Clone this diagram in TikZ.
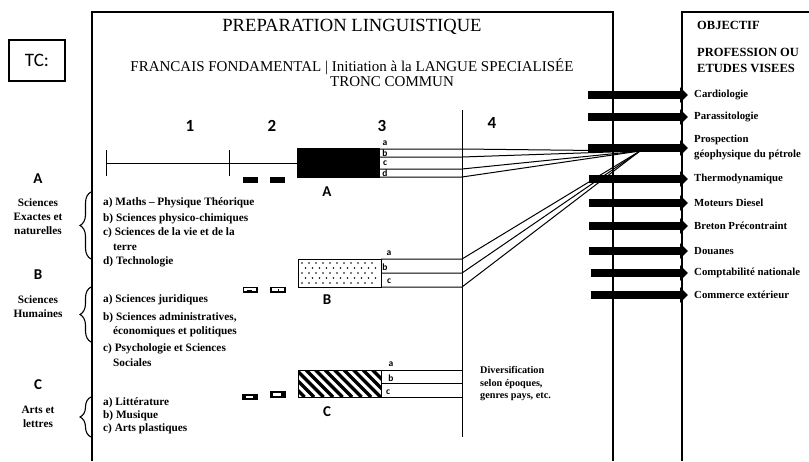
\documentclass[tikz,border=0pt]{standalone}
\usepackage{fontspec}
\setmainfont{Liberation Serif}
\newfontfamily\calib{Carlito}
\usetikzlibrary{arrows.meta,decorations.pathreplacing}
\begin{document}
\begin{tikzpicture}[x=1pt,y=-1pt,
  frame/.style={line width=1.3pt},
  conn/.style={line width=1pt},
  lst/.style={anchor=west, inner sep=0pt, font=\fontsize{11.3}{12}\selectfont\bfseries},
  obj/.style={anchor=west, inner sep=0pt, font=\fontsize{10.8}{12}\selectfont\bfseries},
  objhead/.style={anchor=west, inner sep=0pt, font=\fontsize{12.5}{14}\selectfont\bfseries},
  sansnum/.style={inner sep=0pt, font=\calib\fontsize{17}{18}\selectfont\bfseries},
  sanslab/.style={inner sep=0pt, font=\calib\fontsize{15}{18}\selectfont\bfseries},
  tinylab/.style={inner sep=0pt, font=\calib\fontsize{9.5}{10}\selectfont\bfseries},
  cat/.style={inner sep=0pt, align=center, font=\fontsize{11.3}{14}\selectfont\bfseries},
  bigarrow/.style={line width=8.5pt, -{Triangle[length=8pt,width=15pt]}},
  bracestyle/.style={decorate, decoration={brace, amplitude=11pt}, line width=1.1pt}
]
\useasboundingbox (0,0) rectangle (809,461);
\fill[white] (0,0) rectangle (809,461);

% TC box
\node[draw, line width=1.3pt, minimum width=56pt, minimum height=41pt, inner sep=0pt,
      font=\calib\fontsize{19}{20}\selectfont] (tc) at (37,60.5) {TC:};

% frames
\draw[frame] (92,461) -- (92,12) -- (613,12) -- (613,461);
\draw[frame] (682,461) -- (682,12) -- (809,12);

% titles
\node[inner sep=0pt, font=\fontsize{18.6}{20}\selectfont] (title) at (352,27) {PREPARATION LINGUISTIQUE};
\node[inner sep=0pt, font=\fontsize{15}{16}\selectfont] (sub) at (352,67) {FRANCAIS FONDAMENTAL | Initiation à la LANGUE SPECIALISÉE};
\node[inner sep=0pt, font=\fontsize{15}{16}\selectfont] (tronc) at (392,82) {TRONC COMMUN};

% column numbers
\node[sansnum] (n1) at (190,126) {1};
\node[sansnum] (n2) at (272,126) {2};
\node[sansnum] (n3) at (382,126) {3};
\node[sansnum] (n4) at (492,123) {4};

% timeline
\draw[conn] (106,163) -- (297,163);
\draw[conn] (106,150) -- (106,176);
\draw[conn] (229,150) -- (229,176);

% column 4 separator
\draw[conn] (462,110) -- (462,437);

% convergence point
\coordinate (P) at (640,151);

% block A
\fill (297,148) rectangle (380,178);
\foreach \yy/\nm in {149/a,157/b,169/c,177/d}{
  \coordinate (A\nm) at (380,\yy);
  \coordinate (A\nm4) at (462,\yy);
  \draw[conn] (A\nm) -- (A\nm4) -- (P);
}
\node[tinylab] (la) at (385,143.5) {a};
\node[tinylab] (lb) at (385,153.5) {b};
\node[tinylab] (lc) at (385,163) {c};
\node[tinylab] (ld) at (385,173) {d};
\node[sanslab] (labA) at (327,192) {A};
\fill (243,177) rectangle (258,183);
\fill (270,177) rectangle (285,183);

% block B
\draw[conn] (298,259) rectangle (381,287);
\foreach \yy in {263,273,283}{\foreach \xx in {302,309,...,378}{\fill (\xx,\yy) circle (0.8pt);}}
\foreach \yy in {268,278}{\foreach \xx in {305.5,312.5,...,376}{\fill (\xx,\yy) circle (0.8pt);}}
\foreach \yy/\nm in {259/a,273/b,287/c}{
  \coordinate (B\nm) at (381,\yy);
  \coordinate (B\nm4) at (462,\yy);
  \draw[conn] (B\nm) -- (B\nm4) -- (P);
}
\node[tinylab] (lba) at (389,253.5) {a};
\node[tinylab] (lbb) at (385,267.5) {b};
\node[tinylab] (lbc) at (389,281.5) {c};
\node[sanslab] (labB) at (327,300) {B};
\draw[line width=1.4pt] (243.5,287.5) rectangle (257,292);
\draw[line width=0.7pt] (247,290.5) -- (252,290.5);
\draw[line width=1.4pt] (271,287.5) rectangle (285,292);
\draw[line width=0.7pt] (278,289) -- (278,291);

% block C
\begin{scope}
  \clip (298,370) rectangle (381,397);
  \foreach \xx in {268,277.5,...,385}{\draw[line width=3.2pt] (\xx,370) -- (\xx+27,397);}
\end{scope}
\draw[conn] (298,370) rectangle (381,397);
\foreach \yy/\nm in {370/a,383/b,397/c}{
  \coordinate (C\nm) at (381,\yy);
  \coordinate (C\nm4) at (462,\yy);
  \draw[conn] (C\nm) -- (C\nm4);
}
\node[tinylab] (lca) at (391,364.5) {a};
\node[tinylab] (lcb) at (391,378.5) {b};
\node[tinylab] (lcc) at (388,392) {c};
\node[sanslab] (labC) at (327,412) {C};
\fill (242,394) rectangle (258,400);
\fill[white] (246,396) rectangle (253,398);
\fill (270,391) rectangle (286,398);
\fill[white] (273,393) rectangle (281,395.5);

% diversification
\node[anchor=west, inner sep=0pt, align=left, font=\fontsize{10.2}{12.5}\selectfont\bfseries] (div) at (480,384)
  {Diversification\\selon époques,\\genres pays, etc.};

% left categories
\node[sanslab] (cA) at (38,179) {A};
\node[cat] (catA) at (38,217) {Sciences\\Exactes et\\naturelles};
\node[sanslab] (cB) at (38,275) {B};
\node[cat] (catB) at (38,307) {Sciences\\Humaines};
\node[sanslab] (cC) at (38,385) {C};
\node[cat] (catC) at (38,416.5) {Arts et\\lettres};

\draw[bracestyle] (91,259) -- (91,192);
\draw[bracestyle] (91,342) -- (91,287);
\draw[bracestyle] (91,437) -- (91,397);

% lists
\node[lst] (a1) at (103,203) {a) Maths -- Physique Théorique};
\node[lst] (a2) at (103,219) {b) Sciences physico-chimiques};
\node[lst] (a3) at (103,233) {c) Sciences de la vie et de la};
\node[lst] (a3b) at (113,247) {terre};
\node[lst] (a4) at (103,262) {d) Technologie};

\node[lst] (b1) at (103,300) {a) Sciences juridiques};
\node[lst] (b2) at (103,318) {b) Sciences administratives,};
\node[lst] (b2b) at (113,332) {économiques et politiques};
\node[lst] (b3) at (103,349) {c) Psychologie et Sciences};
\node[lst] (b3b) at (113,363) {Sociales};

\node[lst] (c1) at (103,403) {a) Littérature};
\node[lst] (c2) at (103,416) {b) Musique};
\node[lst] (c3) at (103,429) {c) Arts plastiques};

% objective column
\node[objhead] (ob) at (697,25) {OBJECTIF};
\node[objhead] (ob2) at (697,52) {PROFESSION OU};
\node[objhead] (ob3) at (697,68) {ETUDES VISEES};

\foreach \yy/\sx/\nm/\txt in {95/588/o1/Cardiologie, 117/588/o2/Parassitologie, 179/589/o4/Thermodynamique, 203/589/o5/Moteurs Diesel, 226/589/o6/Breton Précontraint, 251/589/o7/Douanes, 273/591/o8/Comptabilité nationale, 295/591/o9/Commerce extérieur}{
  \coordinate (s\nm) at (\sx,\yy);
  \node[obj] (\nm) at (694,\yy) {\txt};
  \draw[bigarrow] (s\nm) -- (\nm.west -| 688,0);
}
\coordinate (so3) at (588,148);
\node[obj, align=left, font=\fontsize{10.8}{14.5}\selectfont\bfseries] (o3) at (694,147.5) {Prospection\\géophysique du pétrole};
\draw[bigarrow] (so3) -- (688,148);

\end{tikzpicture}
\end{document}
